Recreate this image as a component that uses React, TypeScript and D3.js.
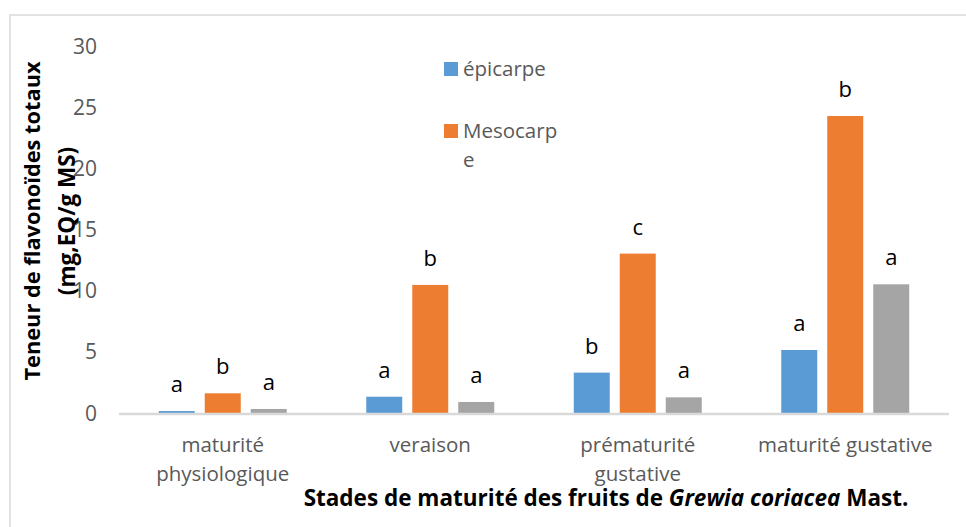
import React from "react";
import * as d3 from "d3";

const categories = ["maturité physiologique", "veraison", "prématurité gustative", "maturité gustative"];
const categoryLines = [["maturité", "physiologique"], ["veraison"], ["prématurité", "gustative"], ["maturité gustative"]];
const seriesNames = ["épicarpe", "Mesocarpe", "série 3"];
const epicarpe = [0.16, 1.33, 3.3, 5.15];
const mesocarpe = [1.61, 10.47, 13.03, 24.28];
const serie3 = [0.33, 0.9, 1.28, 10.52];
const epicarpeLetters = ["a", "a", "b", "a"];
const mesocarpeLetters = ["b", "b", "c", "b"];
const serie3Letters = ["a", "a", "a", "a"];
const yTicks = [0, 5, 10, 15, 20, 25, 30];
const legendLines = [["épicarpe"], ["Mesocarp", "e"]];
const colors = ["#5b9bd5", "#ed7d31", "#a5a5a5"];

const W = 966;
const H = 527;
const FONT = "'Open Sans', 'Noto Sans', sans-serif";

export default function App() {
  const values = [epicarpe, mesocarpe, serie3];
  const letters = [epicarpeLetters, mesocarpeLetters, serie3Letters];
  const x0 = d3.scaleBand<string>().domain(categories).range([119, 949]).padding(0);
  const x1 = d3.scaleBand<string>().domain(seriesNames).range([-69, 69]).paddingInner(10 / 46).paddingOuter(5 / 46);
  const y = d3.scaleLinear().domain([0, 30]).range([413, 46]);
  const bw = x1.bandwidth();

  return (
    <svg width={W} height={H} style={{ position: "absolute", left: 0, top: 0, display: "block" }} fontFamily={FONT}>
      <rect x={0} y={0} width={W} height={H} fill="#ffffff" />
      <rect x={10} y={15} width={1000} height={600} fill="none" stroke="#d9d9d9" strokeWidth={1.5} />
      {/* y tick labels */}
      {yTicks.map((t) => (
        <text key={t} x={97} y={y(t)} dy="0.36em" textAnchor="end" fontSize={21} fill="#595959">
          {t}
        </text>
      ))}
      {/* bars */}
      {categories.map((c, ci) => {
        const cx = (x0(c) as number) + x0.bandwidth() / 2;
        return (
          <g key={c}>
            {seriesNames.map((s, si) => {
              const v = values[si][ci];
              const bx = cx + (x1(s) as number);
              return (
                <g key={s}>
                  <rect x={bx} y={y(v)} width={bw} height={y(0) - y(v)} fill={colors[si]} />
                  <text x={bx + bw / 2} y={y(v) - 19} textAnchor="middle" fontSize={22} fill="#000000">
                    {letters[si][ci]}
                  </text>
                </g>
              );
            })}
          </g>
        );
      })}
      {/* axis line */}
      <line x1={119} x2={949} y1={414} y2={414} stroke="#d9d9d9" strokeWidth={2.5} />
      {/* category labels */}
      {categories.map((c, ci) => {
        const cx = (x0(c) as number) + x0.bandwidth() / 2;
        return (
          <text key={c} x={cx} y={452} textAnchor="middle" fontSize={20.5} fill="#595959">
            {categoryLines[ci].map((l, li) => (
              <tspan key={li} x={cx} dy={li === 0 ? 0 : 28.5}>
                {l}
              </tspan>
            ))}
          </text>
        );
      })}
      {/* x title */}
      <text x={606} y={506} textAnchor="middle" fontSize={22.5} fontWeight="bold" fill="#000000">
        Stades de maturité des fruits de <tspan fontStyle="italic">Grewia coriacea</tspan> Mast.
      </text>
      {/* y title */}
      <g transform="translate(40,221) rotate(-90)">
        <text x={0} y={0} textAnchor="middle" fontSize={21.8} fontWeight="bold" fill="#000000">
          Teneur de flavonoïdes totaux
        </text>
      </g>
      <g transform="translate(75,221) rotate(-90)">
        <text x={0} y={0} textAnchor="middle" fontSize={22.5} fontWeight="bold" fill="#000000">
          (mg,EQ/g MS)
        </text>
      </g>
      {/* legend */}
      {legendLines.map((lines, i) => {
        const top = 62 + i * 62;
        return (
          <g key={i}>
            <rect x={444} y={top} width={14} height={14} fill={colors[i]} />
            <text x={463} y={top + 14} fontSize={20.5} fill="#595959">
              {lines.map((l, li) => (
                <tspan key={li} x={463} dy={li === 0 ? 0 : 29}>
                  {l}
                </tspan>
              ))}
            </text>
          </g>
        );
      })}
    </svg>
  );
}
